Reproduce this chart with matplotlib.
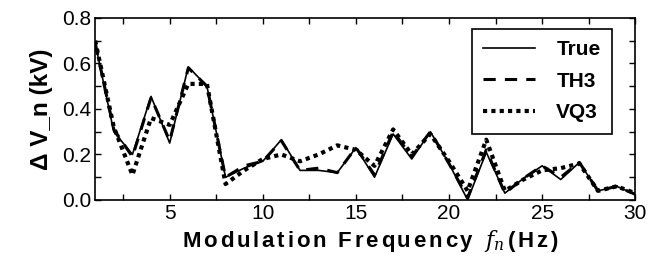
import matplotlib
matplotlib.use("Agg")
import matplotlib.pyplot as plt
from matplotlib.ticker import MultipleLocator

freq = list(range(1, 31))
true_v = [0.69, 0.30, 0.20, 0.455, 0.25, 0.585, 0.50, 0.10, 0.14, 0.17,
          0.265, 0.13, 0.13, 0.12, 0.23, 0.10, 0.29, 0.18, 0.30, 0.16,
          0.00, 0.21, 0.03, 0.095, 0.15, 0.09, 0.165, 0.04, 0.06, 0.025]
th3_v = [0.69, 0.31, 0.19, 0.45, 0.26, 0.58, 0.50, 0.10, 0.15, 0.17,
         0.26, 0.13, 0.14, 0.12, 0.23, 0.11, 0.30, 0.19, 0.30, 0.16,
         0.01, 0.22, 0.03, 0.095, 0.15, 0.10, 0.165, 0.04, 0.06, 0.025]
vq3_v = [0.70, 0.32, 0.11, 0.36, 0.33, 0.51, 0.51, 0.07, 0.13, 0.18,
         0.20, 0.17, 0.20, 0.24, 0.22, 0.15, 0.31, 0.20, 0.29, 0.17,
         0.04, 0.265, 0.04, 0.09, 0.13, 0.14, 0.16, 0.04, 0.06, 0.03]
labels = ["True", "TH3", "VQ3"]
xticks = [5, 10, 15, 20, 25, 30]
yticks = [0.0, 0.2, 0.4, 0.6, 0.8]
xlabel_pieces = list("Modulation Frequency ") + [r"$f_n$"] + list("(Hz)")
ylabel_text = "Δ V_n (kV)"

plt.rcParams['font.family'] = ['Liberation Sans', 'DejaVu Sans']
plt.rcParams['mathtext.fontset'] = 'dejavuserif'
fig = plt.figure(figsize=(6.61, 2.67), dpi=100)
ax = fig.add_axes([0.144, 0.251, 0.817, 0.682])

l3, = ax.plot(freq, vq3_v, color='black', lw=3.0, linestyle=(0, (1, 1)), label=labels[2])
l2, = ax.plot(freq, th3_v, color='black', lw=2.2, linestyle=(0, (4, 3)), label=labels[1])
l1, = ax.plot(freq, true_v, color='black', lw=1.2, linestyle='-', label=labels[0])

ax.set_xlim(1, 30)
ax.set_ylim(0, 0.8)
ax.xaxis.set_minor_locator(MultipleLocator(2.5))
ax.yaxis.set_minor_locator(MultipleLocator(0.1))
ax.set_yticks(yticks)
ax.set_yticklabels([f"{v:.1f}" for v in yticks])
ax.set_xticks(xticks)
ax.set_xticklabels([str(v) for v in xticks])
ax.tick_params(which='both', direction='in', top=True, right=True, labelsize=15, pad=3)
ax.tick_params(which='major', length=4, width=1)
ax.tick_params(which='minor', length=4, width=1)
for s in ax.spines.values():
    s.set_linewidth(1.2)

ax.set_ylabel(ylabel_text, fontsize=17.5, fontweight='bold', labelpad=6)

# x label drawn with letter spacing
fig.canvas.draw()
renderer = fig.canvas.get_renderer()
fs = 16
extra = 2.8  # px between characters
widths = []
objs = []
for p in xlabel_pieces:
    if p == " ":
        widths.append(fs * 0.278 * 100 / 72)
        objs.append(None)
        continue
    t = fig.text(0, 0, p, fontsize=fs, fontweight='bold', ha='left', va='baseline')
    bb = t.get_window_extent(renderer)
    widths.append(bb.width)
    objs.append(t)
total = sum(widths) + extra * (len(widths) - 1)
W, H = fig.get_size_inches() * fig.dpi
cx = 370
x = cx - total / 2
base_y = H - 247
for w, t in zip(widths, objs):
    if t is not None:
        t.set_position((x / W, base_y / H))
    x += w + extra

leg = ax.legend(handles=[l1, l2, l3], loc='upper right', bbox_to_anchor=(0.957, 0.94),
                borderaxespad=0, fancybox=False, edgecolor='black', framealpha=1,
                prop={'weight': 'bold', 'size': 15}, handlelength=2.5,
                borderpad=0.55, labelspacing=0.6, handletextpad=1.0)
leg.get_frame().set_linewidth(1.2)

fig.savefig("out.png", dpi=100)
